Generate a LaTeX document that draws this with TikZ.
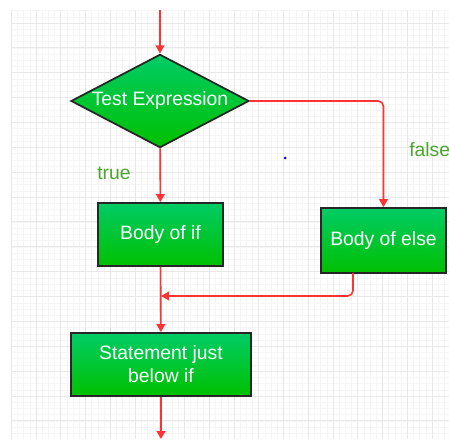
\documentclass[tikz,border=0pt]{standalone}
\usepackage{fontspec}
\setmainfont{Liberation Sans}
\usetikzlibrary{arrows.meta,positioning,shapes.geometric}
\definecolor{boxtop}{HTML}{00CC66}
\definecolor{boxbot}{HTML}{00C000}
\definecolor{flowred}{HTML}{FF3333}
\definecolor{lblgreen}{HTML}{4CA52E}
\tikzset{
  block/.style    = {draw=black!85, line width=1.3pt, rectangle, inner sep=0pt,
                     top color=boxtop, bottom color=boxbot, text=white,
                     align=center, font=\fontsize{14.5}{17.25}\selectfont},
  decision/.style = {block, diamond, aspect=1.9},
  sig/.style      = {-{Triangle[length=6pt,width=6.5pt]}, draw=flowred,
                     line width=1.2pt},
  lbl/.style      = {text=lblgreen, inner sep=0pt,
                     font=\fontsize{14.5}{17.25}\selectfont},
  gridminor/.style = {draw=black!4, line width=0.4pt},
  gridmajor/.style = {draw=black!9, line width=0.7pt},
}

\begin{document}
\begin{tikzpicture}[x=0.75pt, y=0.75pt]
\useasboundingbox (0,0) rectangle (449,439);
% ---------------- grid ----------------
\foreach \i in {0,...,70} \draw[gridminor] ({11.25+\i*6.1875},0) -- ({11.25+\i*6.1875},429);
\foreach \j in {-2,...,66} \draw[gridminor] (11,{416-\j*6.2175}) -- (449,{416-\j*6.2175});
\foreach \i in {0,...,17} \draw[gridmajor] ({11.25+\i*24.75},0) -- ({11.25+\i*24.75},429);
\foreach \j in {0,...,16} \draw[gridmajor] (11,{416-\j*24.87}) -- (449,{416-\j*24.87});
% ---------------- flow chart ----------------
\coordinate (top) at (160,429);
\node[decision, minimum width=133.5pt, minimum height=70pt] (test) at (160,338) {Test Expression};
\node[block, minimum width=93.75pt, minimum height=47.25pt] (ifbody) at (160.5,204.5) {Body of if};
\node[block, minimum width=93.75pt, minimum height=48.75pt] (elsebody) at (383.5,198.5) {Body of else};
\node[block, minimum width=135pt, minimum height=47.25pt] (after) at (161,74.5) {Statement just\\below if};
\coordinate (bottom) at (161,0);
\coordinate (elseout) at (353,166);
\coordinate (join) at (161,143);
\draw[sig] (top) -- (test);
\draw[sig] (test) -- (ifbody);
\draw[sig, rounded corners=4pt] (test.east) -| (elsebody.north);
\draw[sig, rounded corners=4pt] (elseout) |- (join);
\draw[sig] (ifbody) -- (after);
\draw[sig] (after) -- (bottom);
\node[lbl] (truelbl) at (114,266) {true};
\node[lbl, anchor=west] (falselbl) at (409,289) {false};
\fill[blue] (285,281) circle (1.5);
\end{tikzpicture}
\end{document}
